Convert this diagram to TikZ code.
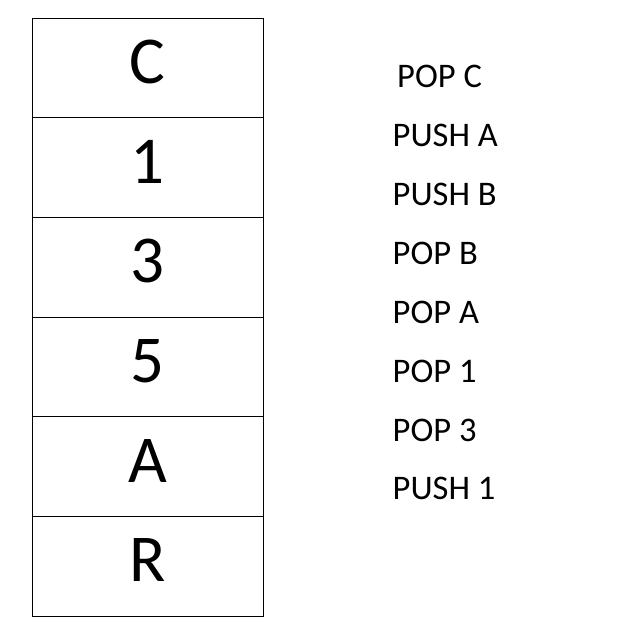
\documentclass[tikz,border=0pt]{standalone}
\usepackage{fontspec}
\setmainfont{Carlito}
\usepackage{tikz}
\usetikzlibrary{positioning}

\begin{document}
\begin{tikzpicture}[x=1pt, y=-1pt,
    cell/.style={draw, rectangle, line width=0.8pt, outer sep=0pt, minimum width=231.5pt, minimum height=99.7pt, inner sep=0pt, text height=43pt, text depth=12pt, font=\fontsize{67}{67}\selectfont},
    op/.style={anchor=west, inner sep=0pt, font=\fontsize{34.5}{34.5}\selectfont}
]
\useasboundingbox (0,0) rectangle (636,635);

% stack
\node[cell] (c1) at (147.75, 67.8) {C};
\node[cell, below=0pt of c1] (c2) {1};
\node[cell, below=0pt of c2] (c3) {3};
\node[cell, below=0pt of c3] (c4) {5};
\node[cell, below=0pt of c4] (c5) {A};
\node[cell, below=0pt of c5] (c6) {R};

% operations
\node[op] (op1) at (397, 76) {POP C};
\node[op] (op2) at (392.5, 135) {PUSH A};
\node[op] (op3) at (392.5, 194) {PUSH B};
\node[op] (op4) at (392.5, 253) {POP B};
\node[op] (op5) at (392.5, 312) {POP A};
\node[op] (op6) at (392.5, 371) {POP 1};
\node[op] (op7) at (392.5, 430) {POP 3};
\node[op] (op8) at (392.5, 488) {PUSH 1};

\end{tikzpicture}
\end{document}
